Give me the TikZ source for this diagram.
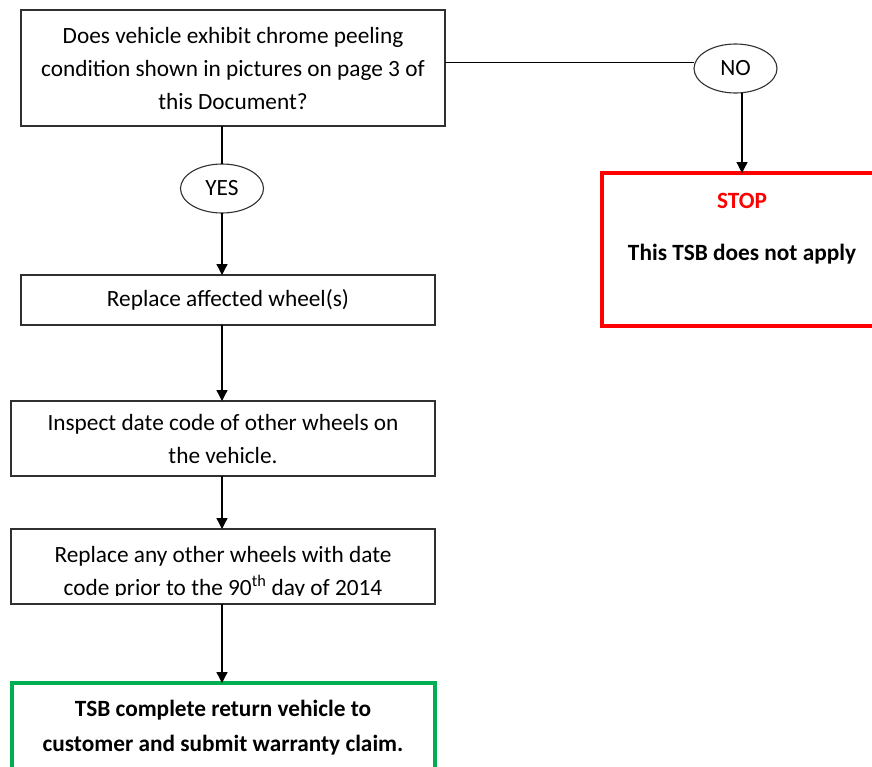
\documentclass[tikz,border=0pt]{standalone}
\usepackage{fontspec}
\setmainfont{Carlito}
\usetikzlibrary{arrows.meta,shapes.geometric}
\definecolor{wordgreen}{HTML}{00B050}
\definecolor{linegray}{HTML}{303030}
\tikzset{
  box/.style={draw=linegray,line width=1.3pt,rectangle,inner sep=0pt,outer sep=0pt,anchor=north west,align=center},
  oval/.style={draw=linegray,line width=1.1pt,ellipse,inner sep=0pt,outer sep=0pt,minimum width=83pt,minimum height=49pt},
  stopbox/.style={draw=red,line width=3.5pt,rectangle,inner sep=0pt,outer sep=0pt,anchor=north west},
  donebox/.style={draw=wordgreen,line width=3.5pt,rectangle,inner sep=0pt,outer sep=0pt,anchor=north west},
  txt/.style={inner sep=0pt,align=center,font=\fontsize{23.3}{33}\selectfont},
  conn/.style={draw=black,line width=1.3pt},
  arr/.style={conn,-{Triangle[width=11pt,length=11pt]}}
}
\begin{document}
\begin{tikzpicture}[x=1pt,y=-1pt]
\useasboundingbox (0,0) rectangle (872,766);
\clip (0,0) rectangle (872,766);
\fill[white] (0,0) rectangle (872,766);
% boxes
\node[box,minimum width=424pt,minimum height=116pt,font=\fontsize{23.3}{33}\selectfont] (q) at (21,10)
  {Does vehicle exhibit chrome peeling\\condition shown in pictures on page 3 of\\this Document?};
\node[oval,font=\fontsize{23.3}{26}\selectfont] (no) at (735.5,68.5) {\raisebox{-4pt}{NO}};
\node[oval,font=\fontsize{23.3}{26}\selectfont] (yes) at (222,188.5) {\raisebox{-4pt}{YES}};
\node[stopbox,minimum width=280pt,minimum height=153pt] (stop) at (602,173) {};
\node[txt,text=red,font=\fontsize{23.3}{26}\selectfont\bfseries] (stoptitle) at (742,201) {STOP};
\node[txt,font=\fontsize{23.3}{26}\selectfont\bfseries] (stoptext) at (742,254) {This TSB does not apply};
\node[box,minimum width=414pt,minimum height=50pt,font=\fontsize{23.3}{33}\selectfont] (r1) at (21,275) {Replace affected wheel(s)};
\node[box,minimum width=424pt,minimum height=75pt,font=\fontsize{23.3}{33}\selectfont] (r2) at (11,401)
  {Inspect date code of other wheels on\\the vehicle.};
\node[box,minimum width=424pt,minimum height=75pt] (r3) at (11,529) {};
\begin{scope}
  \clip (11,529) rectangle (435,595.5);
  \node[txt] (r3text) at (223,573) {Replace any other wheels with date\\code prior to the 90\textsuperscript{th} day of 2014};
\end{scope}
\node[donebox,minimum width=423pt,minimum height=110pt] (done) at (12,683) {};
\node[txt,font=\fontsize{23.3}{35}\selectfont\bfseries] (donetext) at (223,728)
  {TSB complete return vehicle to\\customer and submit warranty claim.};
% connectors
\draw[conn] ([yshift=5.5pt]q.east) -- ([yshift=5.5pt]q.east -| no.west);
\draw[arr] (stop.north |- no.south) -- (stop.north);
\draw[conn] (yes.north |- q.south) -- (yes.north);
\draw[arr] (yes.south) -- (yes.south |- r1.north);
\draw[arr] (yes.south |- r1.south) -- (yes.south |- r2.north);
\draw[arr] (yes.south |- r2.south) -- (yes.south |- r3.north);
\draw[arr] (yes.south |- r3.south) -- (yes.south |- done.north);
\end{tikzpicture}
\end{document}
